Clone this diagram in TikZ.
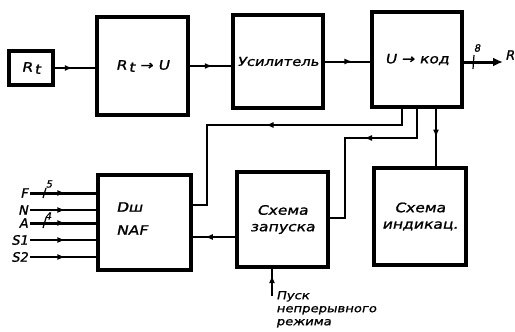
\documentclass[tikz,border=0pt]{standalone}
\usepackage{fontspec}
% hand-lettered look: stretched, slanted, emboldened sans
\newfontfamily\hand[FakeStretch=1.2,FakeSlant=0.2,FakeBold=1.2]{DejaVu Sans}
\newfontfamily\handn[FakeSlant=0.2,FakeBold=1.2]{DejaVu Sans}
\newcommand{\Rsub}{R\kern2pt\raisebox{-0.3ex}{t}}
\usetikzlibrary{arrows.meta,decorations.markings,calc}

\begin{document}
\begin{tikzpicture}[x=1pt,y=-1pt,
  blk/.style={draw, line width=3.2pt, inner sep=0pt, outer sep=0pt,
              font=\hand\fontsize{13}{16.5}\selectfont, align=center},
  wire/.style={line width=2pt},
  bus/.style={line width=3pt},
  midtip/.style={postaction={decorate},
    decoration={markings, mark=at position #1 with {\arrow{Latex[length=8pt,width=6pt]}}}},
  lbl/.style={font=\hand\fontsize{13}{15}\selectfont, inner sep=0pt},
  inlbl/.style={font=\handn\fontsize{13}{15}\selectfont, inner sep=0pt, anchor=east},
  small/.style={font=\handn\fontsize{10}{11}\selectfont, inner sep=0pt}
]
\useasboundingbox (0,0) rectangle (515,332);

% blocks
\node[blk, minimum width=44, minimum height=34] (rt)    at (31,68)      {\Rsub};
\node[blk, minimum width=91, minimum height=98] (conv)  at (142.5,66)   {\Rsub\ → U};
\node[blk, minimum width=90, minimum height=93, font=\hand\fontsize{12.3}{15}\selectfont]
                                                (amp)   at (278,61.5)   {Усилитель};
\node[blk, minimum width=90, minimum height=95] (adc)   at (417,59.5)   {U → код};
\node[blk, minimum width=93, minimum height=95] (dec)   at (144.5,222.5) {};
\node[blk, minimum width=91, minimum height=95] (start) at (282.5,219.5) {Схема\\запуска};
\node[blk, minimum width=92, minimum height=97] (ind)   at (420,216.5)  {Схема\\индикац.};

\node[lbl, anchor=west] (dectop) at (116,207) {Dш};
\node[lbl, anchor=west] (decbot) at (116,230) {NAF};

% forward chain
\draw[wire, midtip=0.45] (rt) -- (rt -| conv.west);
\draw[wire, midtip=0.55] (conv) -- (conv -| amp.west);
\draw[wire, midtip=0.6]  (amp) -- (amp -| adc.west);

% output bus
\coordinate (outR) at (503,62);
\draw[line width=3pt, -{Latex[length=10pt,width=9pt]}] (adc.east |- outR) -- (outR);
\draw[line width=1.2pt] (474,55) -- (473,69);
\node[small] (bw) at (477,48) {8};
\node[inlbl, anchor=west] (rlab) at (505,55) {R};

% feedback from the converter
\coordinate (a1) at ($(adc.south west)+(30,0)$);
\coordinate (a2) at ($(adc.south west)+(45,0)$);
\coordinate (a3) at ($(adc.south west)+(64,0)$);
\draw[wire, midtip=0.5]  (a1) |- (207,125) |- (dec.east |- 0,205);
\draw[wire, midtip=0.42] (a2) |- (345,138) |- (start.east |- 0,218);
\draw[wire, midtip=0.5]  (a3) -- (a3 |- ind.north);
\draw[wire, midtip=0.7]  (start.west |- 0,237) -- (dec.east |- 0,237);

% continuous-mode start input
\coordinate (pusk) at (272,296);
\draw[wire, midtip=0.72] (pusk) -- (pusk |- start.south);
\node[lbl, anchor=north west, align=left, font=\hand\fontsize{11}{13}\selectfont]
  (pusklab) at (276,291) {Пуск\\непрерывного\\режима};

% decoder inputs
\foreach \n/\y/\st in {F/193/bus, N/210/wire, A/223/bus, S1/240/wire, S2/257/wire}{
  \coordinate (in\n) at (30,\y);
  \draw[\st, midtip=0.52] (in\n) -- (in\n -| dec.west);
  \node[inlbl] (l\n) at ($(in\n)+(-2,0)$) {\n};
}
\draw[line width=1.2pt] ($(inF)+(13,5)$) -- ($(inF)+(16,-5)$);
\node[small] (wF) at ($(inF)+(19,-9)$) {5};
\draw[line width=1.2pt] ($(inA)+(13,5)$) -- ($(inA)+(16,-5)$);
\node[small] (wA) at ($(inA)+(18,-7)$) {4};
\end{tikzpicture}
\end{document}
